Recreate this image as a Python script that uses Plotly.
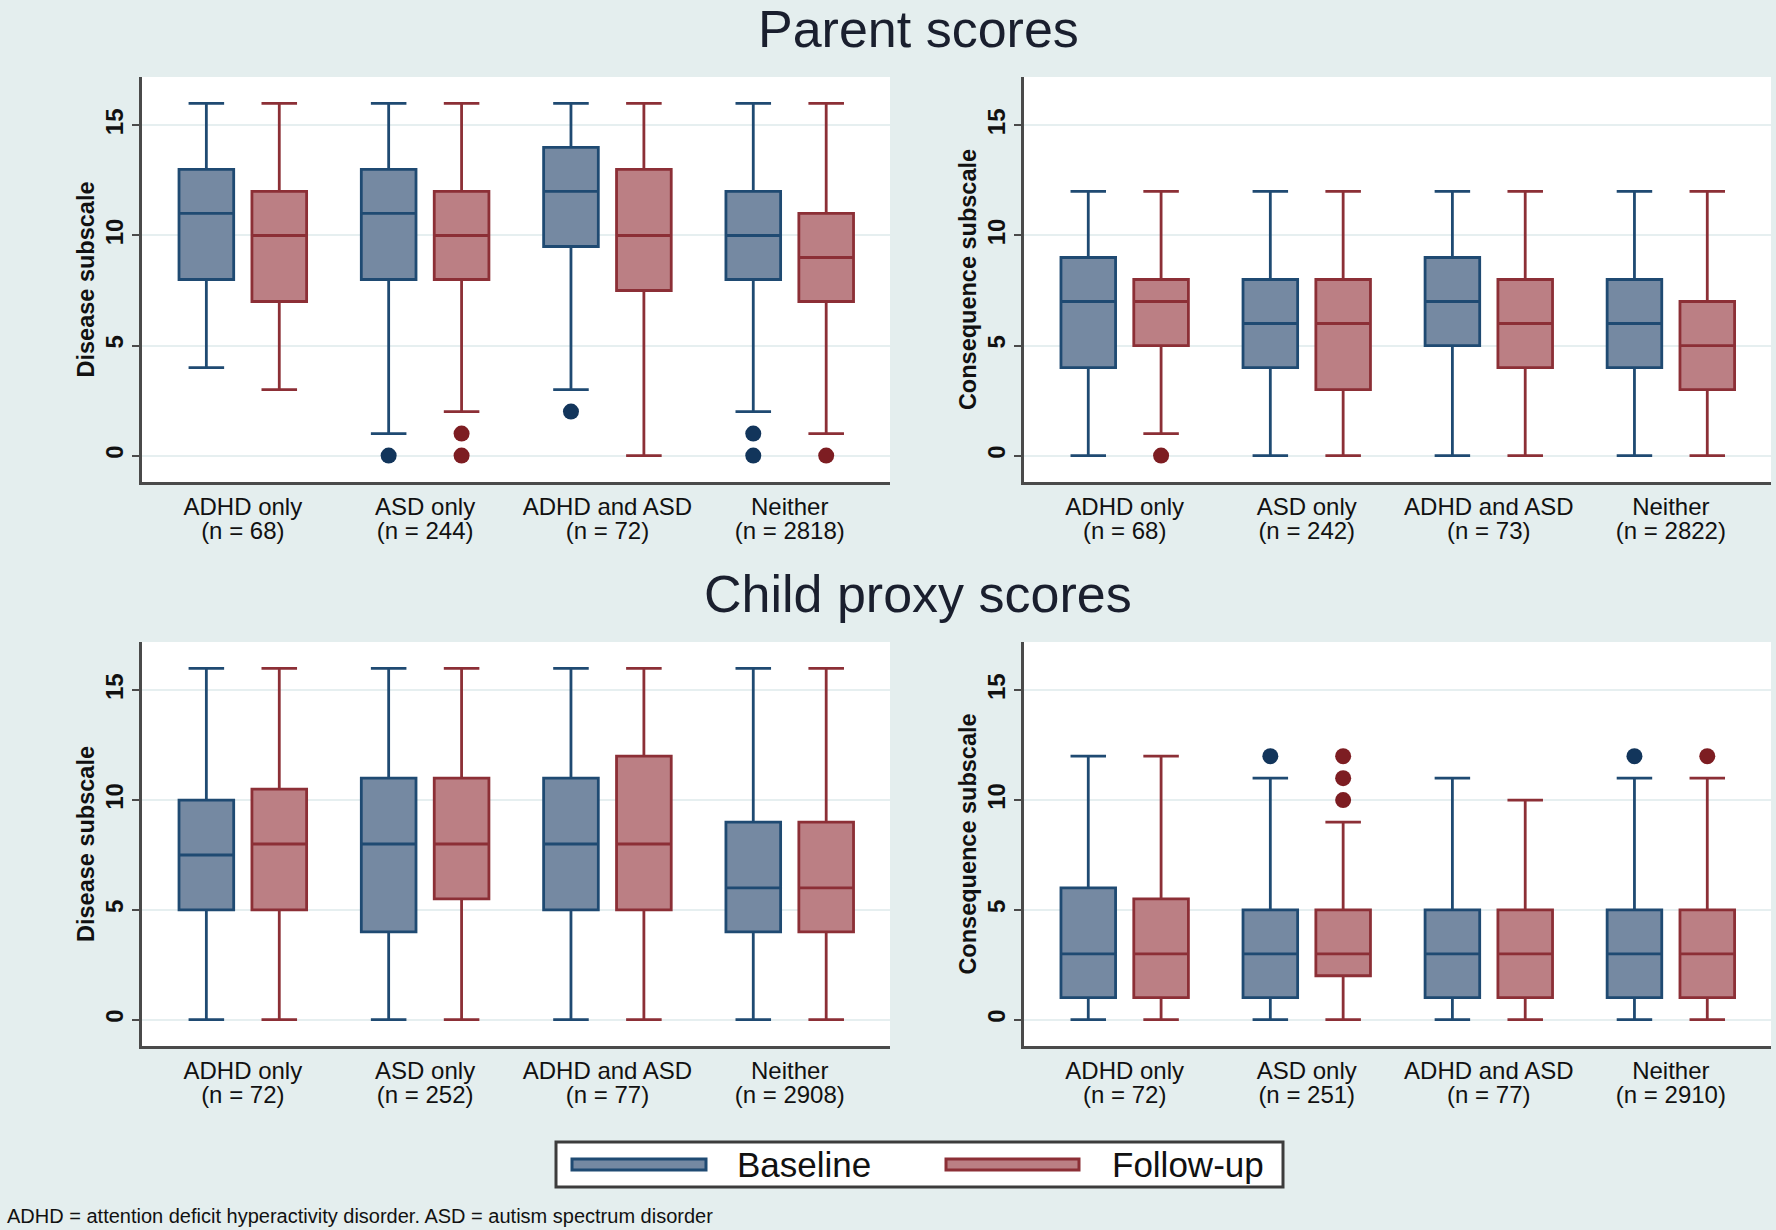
import plotly.graph_objects as go

# ---------------- data ----------------
CATEGORIES = ["ADHD only", "ASD only", "ADHD and ASD", "Neither"]
SERIES = ["Baseline", "Follow-up"]

N_PARENT_DISEASE = [68, 244, 72, 2818]
N_PARENT_CONSEQ = [68, 242, 73, 2822]
N_CHILD_DISEASE = [72, 252, 77, 2908]
N_CHILD_CONSEQ = [72, 251, 77, 2910]

# Parent scores - Disease subscale
PD_BASE_LO = [4, 1, 3, 2]
PD_BASE_Q1 = [8, 8, 9.5, 8]
PD_BASE_MED = [11, 11, 12, 10]
PD_BASE_Q3 = [13, 13, 14, 12]
PD_BASE_HI = [16, 16, 16, 16]
PD_BASE_OUT = [[], [0], [2], [1, 0]]
PD_FU_LO = [3, 2, 0, 1]
PD_FU_Q1 = [7, 8, 7.5, 7]
PD_FU_MED = [10, 10, 10, 9]
PD_FU_Q3 = [12, 12, 13, 11]
PD_FU_HI = [16, 16, 16, 16]
PD_FU_OUT = [[], [1, 0], [], [0]]

# Parent scores - Consequence subscale
PC_BASE_LO = [0, 0, 0, 0]
PC_BASE_Q1 = [4, 4, 5, 4]
PC_BASE_MED = [7, 6, 7, 6]
PC_BASE_Q3 = [9, 8, 9, 8]
PC_BASE_HI = [12, 12, 12, 12]
PC_BASE_OUT = [[], [], [], []]
PC_FU_LO = [1, 0, 0, 0]
PC_FU_Q1 = [5, 3, 4, 3]
PC_FU_MED = [7, 6, 6, 5]
PC_FU_Q3 = [8, 8, 8, 7]
PC_FU_HI = [12, 12, 12, 12]
PC_FU_OUT = [[0], [], [], []]

# Child proxy scores - Disease subscale
CD_BASE_LO = [0, 0, 0, 0]
CD_BASE_Q1 = [5, 4, 5, 4]
CD_BASE_MED = [7.5, 8, 8, 6]
CD_BASE_Q3 = [10, 11, 11, 9]
CD_BASE_HI = [16, 16, 16, 16]
CD_BASE_OUT = [[], [], [], []]
CD_FU_LO = [0, 0, 0, 0]
CD_FU_Q1 = [5, 5.5, 5, 4]
CD_FU_MED = [8, 8, 8, 6]
CD_FU_Q3 = [10.5, 11, 12, 9]
CD_FU_HI = [16, 16, 16, 16]
CD_FU_OUT = [[], [], [], []]

# Child proxy scores - Consequence subscale
CC_BASE_LO = [0, 0, 0, 0]
CC_BASE_Q1 = [1, 1, 1, 1]
CC_BASE_MED = [3, 3, 3, 3]
CC_BASE_Q3 = [6, 5, 5, 5]
CC_BASE_HI = [12, 11, 11, 11]
CC_BASE_OUT = [[], [12], [], [12]]
CC_FU_LO = [0, 0, 0, 0]
CC_FU_Q1 = [1, 2, 1, 1]
CC_FU_MED = [3, 3, 3, 3]
CC_FU_Q3 = [5.5, 5, 5, 5]
CC_FU_HI = [12, 9, 10, 11]
CC_FU_OUT = [[], [12, 11, 10], [], [12]]

Y_TICKS = [0, 5, 10, 15]

# ---------------- styling ----------------
W, H = 1776, 1230
BG = "#e4eeee"
GRID = "#e6eff0"
AXIS = "#4a4a4a"
FONT = "Liberation Sans"
STYLE = {
    "Baseline": dict(fill="#7589a2", line="#1f4a72", out="#12355b", off=-0.2),
    "Follow-up": dict(fill="#bb7f84", line="#8c2f36", out="#7d1d22", off=0.2),
}
BOX_W = 0.30

fig = go.Figure()

panels = [
    # (xaxis, yaxis, n, y title, baseline stats, follow-up stats)
    ("x", "y", N_PARENT_DISEASE, "Disease subscale",
     (PD_BASE_LO, PD_BASE_Q1, PD_BASE_MED, PD_BASE_Q3, PD_BASE_HI, PD_BASE_OUT),
     (PD_FU_LO, PD_FU_Q1, PD_FU_MED, PD_FU_Q3, PD_FU_HI, PD_FU_OUT)),
    ("x2", "y2", N_PARENT_CONSEQ, "Consequence subscale",
     (PC_BASE_LO, PC_BASE_Q1, PC_BASE_MED, PC_BASE_Q3, PC_BASE_HI, PC_BASE_OUT),
     (PC_FU_LO, PC_FU_Q1, PC_FU_MED, PC_FU_Q3, PC_FU_HI, PC_FU_OUT)),
    ("x3", "y3", N_CHILD_DISEASE, "Disease subscale",
     (CD_BASE_LO, CD_BASE_Q1, CD_BASE_MED, CD_BASE_Q3, CD_BASE_HI, CD_BASE_OUT),
     (CD_FU_LO, CD_FU_Q1, CD_FU_MED, CD_FU_Q3, CD_FU_HI, CD_FU_OUT)),
    ("x4", "y4", N_CHILD_CONSEQ, "Consequence subscale",
     (CC_BASE_LO, CC_BASE_Q1, CC_BASE_MED, CC_BASE_Q3, CC_BASE_HI, CC_BASE_OUT),
     (CC_FU_LO, CC_FU_Q1, CC_FU_MED, CC_FU_Q3, CC_FU_HI, CC_FU_OUT)),
]

for xa, ya, _, _, base, fu in panels:
    for name, stats in zip(SERIES, (base, fu)):
        st = STYLE[name]
        lo, q1, med, q3, hi, outs = stats
        pos = [i + st["off"] for i in range(len(CATEGORIES))]
        fig.add_trace(go.Box(
            x=pos, q1=q1, median=med, q3=q3, lowerfence=lo, upperfence=hi,
            width=BOX_W, whiskerwidth=0.65, boxpoints=False,
            fillcolor=st["fill"], line=dict(color=st["line"], width=2.8),
            name=name, showlegend=False, xaxis=xa, yaxis=ya,
        ))
        ox, oy = [], []
        for p, vals in zip(pos, outs):
            for v in vals:
                ox.append(p)
                oy.append(v)
        if ox:
            fig.add_trace(go.Scatter(
                x=ox, y=oy, mode="markers",
                marker=dict(color=st["out"], size=16, line=dict(width=0)),
                showlegend=False, xaxis=xa, yaxis=ya,
            ))

# ---------------- axes ----------------
XDOM_L = [142 / W, 890 / W]
XDOM_R = [1024 / W, 1771 / W]
YDOM_T = [1 - 482 / H, 1 - 77 / H]
YDOM_B = [1 - 1046 / H, 1 - 642 / H]

doms = {"": (XDOM_L, YDOM_T), "2": (XDOM_R, YDOM_T),
        "3": (XDOM_L, YDOM_B), "4": (XDOM_R, YDOM_B)}

layout = {}
for (suffix, (xd, yd)), (_, _, n, ytitle, _, _) in zip(doms.items(), panels):
    ticktext = [
        f'<span style="font-size:24px">{c}</span><br><span style="font-size:24px">(n = {k})</span>'
        for c, k in zip(CATEGORIES, n)
    ]
    layout["xaxis" + suffix] = dict(
        domain=xd, anchor="y" + suffix, range=[-0.553, 3.55],
        tickmode="array", tickvals=list(range(len(CATEGORIES))), ticktext=ticktext,
        tickfont=dict(family=FONT, size=19, color="#111"),
        ticklabelstandoff=7,
        showgrid=False, zeroline=False, showline=True, linecolor=AXIS, linewidth=2.5,
        ticks="", fixedrange=True,
    )
    layout["yaxis" + suffix] = dict(
        domain=yd, anchor="x" + suffix, range=[-1.2, 17.2],
        tickmode="array", tickvals=Y_TICKS, tickangle=-90,
        tickfont=dict(family=FONT, size=24, color="#111", weight="bold"),
        showgrid=True, gridcolor=GRID, gridwidth=2, zeroline=False,
        showline=True, linecolor=AXIS, linewidth=2.5,
        ticks="outside", ticklen=7, tickwidth=2, tickcolor=AXIS,
        title=dict(text=ytitle, standoff=0,
                   font=dict(family=FONT, size=23.5, color="#111", weight="bold")),
        fixedrange=True,
    )

fig.update_layout(**layout)

# ---------------- titles, legend, note ----------------
annotations = [
    dict(text="Parent scores", x=918 / W, y=1 - 29 / H, xref="paper", yref="paper",
         xanchor="center", yanchor="middle", showarrow=False,
         font=dict(family=FONT, size=52, color="#1a1f2e")),
    dict(text="Child proxy scores", x=918 / W, y=1 - 594 / H, xref="paper", yref="paper",
         xanchor="center", yanchor="middle", showarrow=False,
         font=dict(family=FONT, size=52, color="#1a1f2e")),
    dict(text="ADHD = attention deficit hyperactivity disorder. ASD = autism spectrum disorder",
         x=5 / W, y=1 - 1216 / H, xref="paper", yref="paper",
         xanchor="left", yanchor="middle", showarrow=False,
         font=dict(family=FONT, size=20, color="#111")),
    dict(text="Baseline", x=735 / W, y=1 - 1164 / H, xref="paper", yref="paper",
         xanchor="left", yanchor="middle", showarrow=False,
         font=dict(family=FONT, size=35, color="#111")),
    dict(text="Follow-up", x=1110 / W, y=1 - 1164 / H, xref="paper", yref="paper",
         xanchor="left", yanchor="middle", showarrow=False,
         font=dict(family=FONT, size=35, color="#111")),
]

shapes = [
    # legend frame
    dict(type="rect", xref="paper", yref="paper",
         x0=556 / W, x1=1283 / W, y0=1 - 1187 / H, y1=1 - 1142 / H,
         fillcolor="white", line=dict(color="#3c3c3c", width=3), layer="below"),
    # legend keys
    dict(type="rect", xref="paper", yref="paper",
         x0=572 / W, x1=706 / W, y0=1 - 1170 / H, y1=1 - 1159 / H,
         fillcolor=STYLE["Baseline"]["fill"], line=dict(color=STYLE["Baseline"]["line"], width=3)),
    dict(type="rect", xref="paper", yref="paper",
         x0=946 / W, x1=1079 / W, y0=1 - 1170 / H, y1=1 - 1159 / H,
         fillcolor=STYLE["Follow-up"]["fill"], line=dict(color=STYLE["Follow-up"]["line"], width=3)),
]

fig.update_layout(
    width=W, height=H, margin=dict(l=0, r=0, t=0, b=0),
    paper_bgcolor=BG, plot_bgcolor="white",
    showlegend=False, annotations=annotations, shapes=shapes,
    font=dict(family=FONT, color="#111"),
)

fig.write_html(
    "out.html",
    config={"displayModeBar": False},
    post_script="document.body.style.margin='0px';document.body.style.overflow='hidden';",
)
